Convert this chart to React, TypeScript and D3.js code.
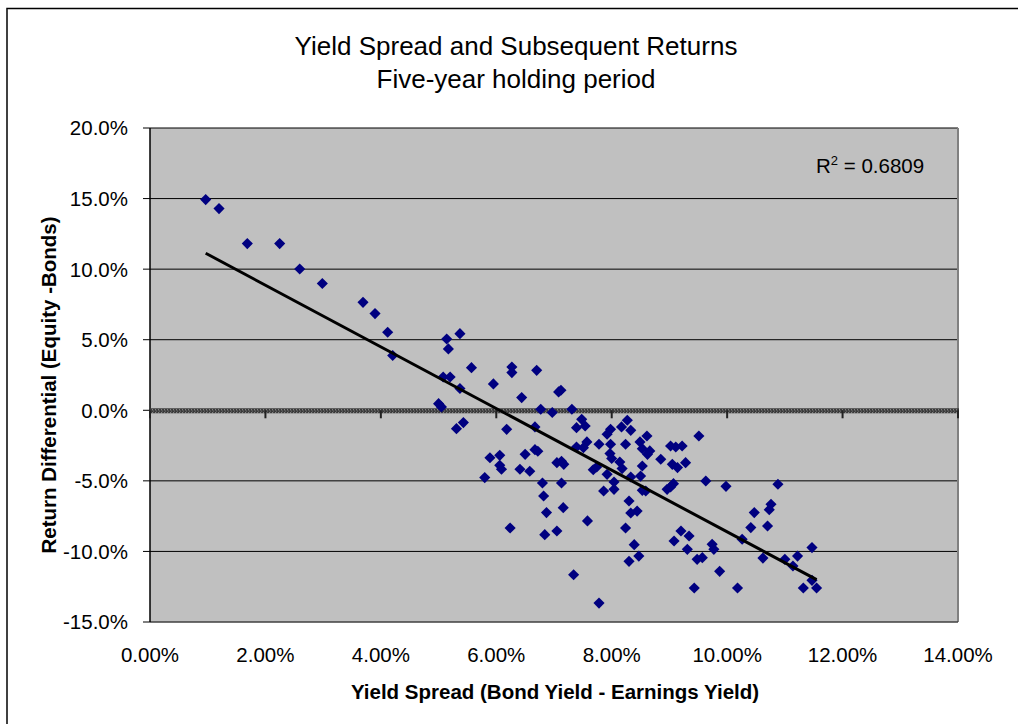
import React from "react";
import * as d3 from "d3";

// Data: yield spread (%), return differential (%)
const spreadX: number[] = [
  0.965, 1.196, 1.686, 2.247, 2.594, 2.986, 3.691, 3.899, 4.118, 4.205,
  5.141, 5.17, 5.37, 5.08, 5.2, 5.37, 5.0, 5.05, 5.31, 5.43,
  5.57, 5.95, 6.27, 6.27, 6.7, 6.44, 6.18, 5.89, 6.06, 6.06,
  6.09, 5.8, 6.41, 6.5, 6.58, 6.24, 6.67, 6.67, 6.72, 6.77,
  6.97, 7.08, 7.12, 7.31, 6.8, 6.82, 6.87, 6.84, 7.05, 7.13,
  7.17, 7.13, 7.16, 7.05, 7.34, 7.78, 7.58, 7.39, 7.48, 7.39,
  7.54, 7.57, 7.51, 7.78, 7.68, 7.74, 7.92, 7.98, 7.98, 7.97,
  8.0, 8.14, 8.18, 7.92, 8.04, 8.04, 7.86, 8.17, 8.27, 8.24,
  8.33, 8.33, 8.3, 8.33, 8.44, 8.24, 8.39, 8.3, 8.47, 8.49,
  8.61, 8.53, 8.66, 8.62, 8.53, 8.5, 8.53, 8.59, 8.85, 9.02,
  9.11, 9.22, 9.05, 9.14, 9.28, 9.51, 9.63, 8.96, 9.07, 9.02,
  9.2, 9.08, 9.34, 9.31, 9.48, 9.57, 9.43, 9.74, 9.77, 9.87,
  9.98, 10.88, 10.76, 10.73, 10.47, 10.41, 10.7, 10.26, 10.18, 10.62,
  11.0, 11.14, 11.22, 11.47, 11.47, 11.32, 11.55,
];
const returnY: number[] = [
  14.93, 14.29, 11.81, 11.81, 10.01, 8.98, 7.65, 6.85, 5.53, 3.88,
  5.05, 4.35, 5.43, 2.36, 2.36, 1.54, 0.47, 0.24, -1.3, -0.87,
  3.02, 1.87, 3.07, 2.67, 2.83, 0.9, -1.35, -3.36, -3.19, -3.9,
  -4.18, -4.77, -4.18, -3.12, -4.32, -8.34, -1.18, -2.79, -2.9, 0.07,
  -0.16, 1.3, 1.42, 0.07, -5.15, -6.07, -7.25, -8.81, -3.71, -3.61,
  -3.83, -5.15, -6.9, -8.55, -11.65, -13.66, -7.84, -2.6, -0.64, -1.23,
  -1.11, -2.24, -2.65, -2.41, -4.21, -4.02, -1.7, -1.35, -2.41, -3.07,
  -3.42, -3.66, -4.13, -4.54, -5.08, -5.6, -5.72, -1.18, -0.71, -2.41,
  -1.42, -4.73, -6.43, -7.28, -7.14, -8.34, -9.52, -10.7, -10.33, -2.24,
  -1.82, -2.72, -2.88, -3.12, -3.95, -4.66, -5.67, -5.72, -3.47, -2.53,
  -2.6, -2.53, -3.83, -4.06, -3.71, -1.82, -5.01, -5.6, -5.2, -5.43,
  -8.55, -9.26, -8.91, -9.85, -10.56, -10.44, -12.59, -9.5, -9.85, -11.41,
  -5.39, -5.24, -6.66, -7.04, -7.25, -8.31, -8.2, -9.14, -12.59, -10.47,
  -10.56, -11.03, -10.33, -9.73, -12.05, -12.59, -12.59,
];
const xTicks: number[] = [0, 2, 4, 6, 8, 10, 12, 14];
const yTicks: number[] = [20, 15, 10, 5, 0, -5, -10, -15];
const titleLines: string[] = ["Yield Spread and Subsequent Returns", "Five-year holding period"];
const xTitle = "Yield Spread (Bond Yield - Earnings Yield)";
const yTitle = "Return Differential (Equity -Bonds)";
const rSquaredLabel = "0.6809";

const W = 1018;
const H = 724;
const L = 150, R = 958, T = 128, B = 622;
const FONT = "'Liberation Sans', Arial, Helvetica, sans-serif";

export default function App() {
  const x = d3.scaleLinear().domain([0, 14]).range([L, R]);
  const y = d3.scaleLinear().domain([-15, 20]).range([B, T]);

  // least squares trend line
  const n = spreadX.length;
  const mx = d3.mean(spreadX) as number;
  const my = d3.mean(returnY) as number;
  let sxy = 0, sxx = 0;
  for (let i = 0; i < n; i++) {
    sxy += (spreadX[i] - mx) * (returnY[i] - my);
    sxx += (spreadX[i] - mx) ** 2;
  }
  const slope = sxy / sxx;
  const icpt = my - slope * mx;
  const [x0, x1] = d3.extent(spreadX) as [number, number];
  const trend = d3.line<number>().x((d) => x(d)).y((d) => y(icpt + slope * d))([x0, x1]) || "";

  const diamond = d3.symbol(d3.symbolSquare, 62)() || "";
  const y0 = y(0);

  return (
    <svg
      width={W}
      height={H}
      style={{ position: "absolute", left: 0, top: 0, background: "#fff" }}
      fontFamily={FONT}
    >
      <defs>
        <pattern id="zp" width={3} height={6} patternUnits="userSpaceOnUse" x={L} y={y0 - 2}>
          <rect width={3} height={6} fill="#3a3a3a" />
          <rect x={2} y={1} width={1} height={1} fill="#a0a0a0" />
          <rect x={2} y={4} width={1} height={1} fill="#a0a0a0" />
          <rect x={0} y={2.5} width={1} height={1} fill="#7a7a7a" />
        </pattern>
        <clipPath id="plotclip">
          <rect x={L} y={T} width={R - L} height={B - T} />
        </clipPath>
      </defs>

      {/* chart border */}
      <rect x={7} y={8.5} width={1100} height={800} fill="none" stroke="#000" strokeWidth={1.5} />
      <line x1={7} y1={9} x2={7} y2={H} stroke="#404040" strokeWidth={2} />

      {/* title */}
      {titleLines.map((t, i) => (
        <text key={t} x={516} y={55 + i * 33} textAnchor="middle" fontSize={26} fill="#000">
          {t}
        </text>
      ))}

      {/* plot area */}
      <rect x={L} y={T} width={R - L} height={B - T} fill="#c0c0c0" />
      {yTicks.filter((v) => v !== 0 && v !== -15).map((v) => (
        <line key={v} x1={L} x2={R} y1={y(v)} y2={y(v)} stroke="#000" strokeWidth={1} />
      ))}
      <line x1={R} x2={R} y1={T} y2={B} stroke="#808080" strokeWidth={2} />
      <line x1={L} x2={R} y1={B} y2={B} stroke="#404040" strokeWidth={1.5} />

      {/* y axis */}
      <line x1={L} x2={L} y1={T} y2={B} stroke="#000" strokeWidth={1.5} />
      {yTicks.map((v) => (
        <g key={v}>
          <line x1={L - 7} x2={L} y1={y(v)} y2={y(v)} stroke="#000" strokeWidth={1} />
          <text x={128} y={y(v)} dy="0.36em" textAnchor="end" fontSize={20.5} fill="#000">
            {v.toFixed(1) + "%"}
          </text>
        </g>
      ))}

      {/* x axis along zero with dense minor ticks */}
      <rect x={L} y={y0 - 2} width={R - L + 1} height={5} fill="url(#zp)" />
      {xTicks.map((v) => (
        <line key={v} x1={x(v)} x2={x(v)} y1={y0} y2={y0 + 8} stroke="#222" strokeWidth={2} />
      ))}
      {xTicks.map((v) => (
        <text key={"t" + v} x={x(v)} y={662} textAnchor="middle" fontSize={20.5} fill="#000">
          {v.toFixed(2) + "%"}
        </text>
      ))}

      {/* points */}
      <g clipPath="url(#plotclip)">
        {spreadX.map((sx, i) => (
          <path
            key={i}
            d={diamond}
            transform={`translate(${x(sx)},${y(returnY[i])}) rotate(45)`}
            fill="#000080"
          />
        ))}
        <path d={trend} fill="none" stroke="#000" strokeWidth={3} />
      </g>

      {/* R squared */}
      <text x={816} y={173} fontSize={20.5} fill="#000">
        R<tspan dy={-8} fontSize={13}>2</tspan>
        <tspan dy={8}>{" = " + rSquaredLabel}</tspan>
      </text>

      {/* axis titles */}
      <text x={555} y={699} textAnchor="middle" fontSize={20.5} fontWeight="bold" fill="#000">
        {xTitle}
      </text>
      <text
        transform={`translate(56,385) rotate(-90)`}
        textAnchor="middle"
        fontSize={20.5}
        fontWeight="bold"
        fill="#000"
      >
        {yTitle}
      </text>
    </svg>
  );
}
